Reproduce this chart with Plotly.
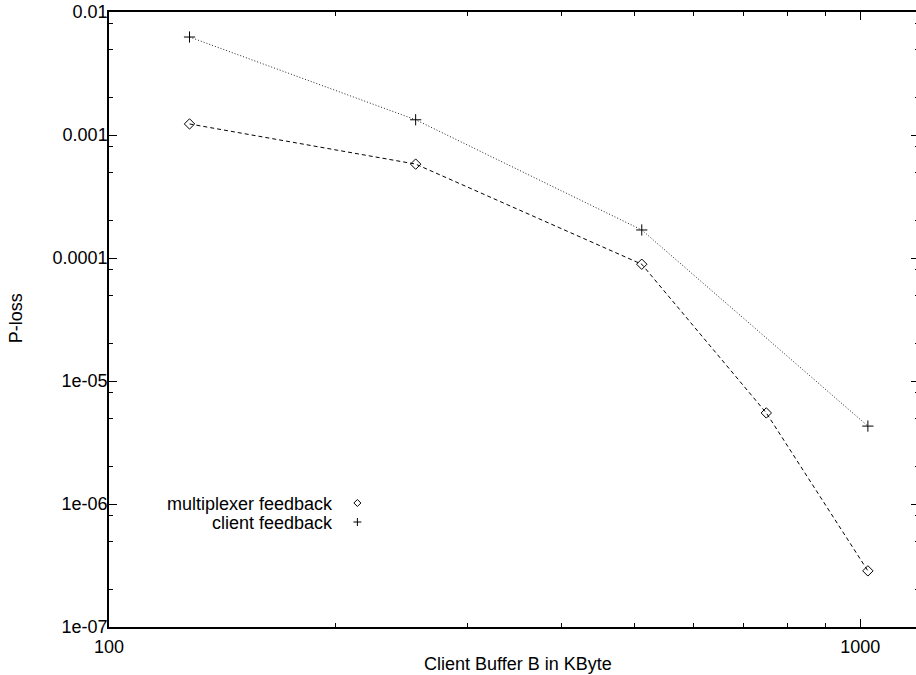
import plotly.graph_objects as go

# ---- data ----
buffer_mux = [128, 256, 512, 750, 1024]
ploss_mux = [1.23e-3, 5.8e-4, 8.9e-5, 5.5e-6, 2.86e-7]
buffer_client = [128, 256, 512, 1024]
ploss_client = [6.26e-3, 1.33e-3, 1.69e-4, 4.3e-6]

x_tickvals = [100, 1000]
x_ticktext = ["100", "1000"]
y_tickvals = [1e-2, 1e-3, 1e-4, 1e-5, 1e-6, 1e-7]
y_ticktext = ["0.01", "0.001", "0.0001", "1e-05", "1e-06", "1e-07"]
x_minor = [200, 300, 400, 500, 600, 700, 800, 900]
y_minor = [m * 10.0 ** e for e in range(-7, -2) for m in (2, 5, 8)]

series_names = ["multiplexer feedback", "client feedback"]

# ---- layout geometry (pixels); plot frame extends just past the window's right edge ----
W, H = 921, 675
L, R, T, B = 109, 0, 12, 48
pw, ph = W - L - R, H - T - B
decade_px = 753.0
x_range = [2, 2 + pw / decade_px]
y_range = [-7, -2]

FONT = "Liberation Sans, Arial, sans-serif"

fig = go.Figure()
fig.add_trace(go.Scatter(
    x=buffer_mux, y=ploss_mux, mode="lines+markers", name=series_names[0],
    line=dict(color="#000", width=1, dash="4px,3px"),
    marker=dict(symbol="diamond-open", size=8, color="#000", line=dict(width=1, color="#000")),
    showlegend=False,
))
fig.add_trace(go.Scatter(
    x=buffer_client, y=ploss_client, mode="lines+markers", name=series_names[1],
    line=dict(color="#222", width=1, dash="1px,2px"),
    marker=dict(symbol="cross-thin", size=8, color="#000", line=dict(width=1, color="#000")),
    showlegend=False,
))

def px_to_paper_x(px):
    return (px - L) / pw

def px_to_paper_y(py):
    return (H - B - py) / ph

axis_common = dict(
    showgrid=False, zeroline=False, showline=True, linecolor="#000", linewidth=1.5,
    mirror="allticks", ticks="inside", ticklen=8, tickwidth=1, tickcolor="#000",
    tickfont=dict(family=FONT, size=18, color="#000"), ticklabeloverflow="allow",
)

fig.update_xaxes(
    type="log", range=x_range, tickmode="array", tickvals=x_tickvals, ticktext=x_ticktext,
    minor=dict(tickmode="array", tickvals=x_minor, ticks="inside", ticklen=4,
               tickcolor="#000", showgrid=False),
    ticklabelstandoff=3,
    **axis_common,
)
fig.update_yaxes(
    type="log", range=y_range, tickmode="array", tickvals=y_tickvals, ticktext=y_ticktext,
    minor=dict(tickmode="array", tickvals=y_minor, ticks="inside", ticklen=4,
               tickcolor="#000", showgrid=False),
    ticklabelstandoff=-4,
    **axis_common,
)

annotations = [
    dict(text="Client Buffer B in KByte", x=px_to_paper_x(519), y=px_to_paper_y(664),
         xref="paper", yref="paper", xanchor="center", yanchor="middle", showarrow=False,
         font=dict(family=FONT, size=18, color="#000")),
    dict(text="P-loss", x=px_to_paper_x(16), y=px_to_paper_y(318), textangle=-90,
         xref="paper", yref="paper", xanchor="center", yanchor="middle", showarrow=False,
         font=dict(family=FONT, size=18, color="#000")),
    dict(text=series_names[0], x=px_to_paper_x(336), y=px_to_paper_y(504),
         xref="paper", yref="paper", xanchor="right", yanchor="middle", showarrow=False,
         font=dict(family=FONT, size=18, color="#000")),
    dict(text=series_names[1], x=px_to_paper_x(336), y=px_to_paper_y(523),
         xref="paper", yref="paper", xanchor="right", yanchor="middle", showarrow=False,
         font=dict(family=FONT, size=18, color="#000")),
]

shapes = [
    dict(type="path", xref="paper", yref="paper", xsizemode="pixel", ysizemode="pixel",
         xanchor=px_to_paper_x(358), yanchor=px_to_paper_y(503),
         path="M -3.5 0 L 0 3.5 L 3.5 0 L 0 -3.5 Z", line=dict(color="#000", width=1)),
    dict(type="line", xref="paper", yref="paper", xsizemode="pixel", ysizemode="pixel",
         xanchor=px_to_paper_x(358), yanchor=px_to_paper_y(522),
         x0=-4, x1=4, y0=0, y1=0, line=dict(color="#000", width=1)),
    dict(type="line", xref="paper", yref="paper", xsizemode="pixel", ysizemode="pixel",
         xanchor=px_to_paper_x(358), yanchor=px_to_paper_y(522),
         x0=0, x1=0, y0=-4, y1=4, line=dict(color="#000", width=1)),
]

fig.update_layout(
    width=W, height=H, margin=dict(l=L, r=R, t=T, b=B, pad=0),
    paper_bgcolor="white", plot_bgcolor="white",
    font=dict(family=FONT, size=18, color="#000"),
    annotations=annotations, shapes=shapes, showlegend=False,
)

fig.write_html("out.html", config={"displayModeBar": False},
               post_script="document.body.style.margin='0';document.body.style.overflow='hidden';")
